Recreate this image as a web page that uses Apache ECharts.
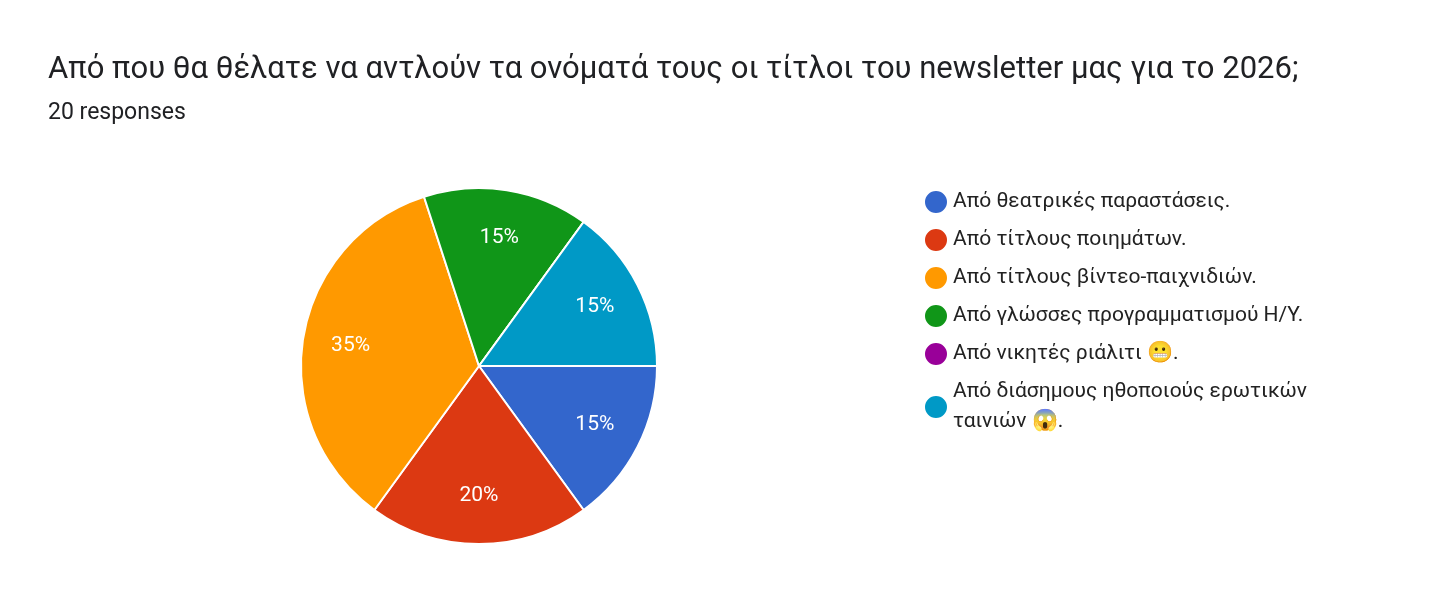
<!DOCTYPE html>
<html lang="en">
<head>
    <meta charset="UTF-8">
    <title>Pie</title>
    <script src="https://cdn.jsdelivr.net/npm/echarts@6/dist/echarts.min.js"></script>
    <style>
        body { margin: 0; background: #fff; }
        #chart { width: 1456px; height: 613px; }
    </style>
</head>
<body>
    <div id="chart"></div>
    <script>
        const categories = [
            'Από θεατρικές παραστάσεις.',
            'Από τίτλους ποιημάτων.',
            'Από τίτλους βίντεο-παιχνιδιών.',
            'Από γλώσσες προγραμματισμού Η/Υ.',
            'Από νικητές ριάλιτι 😬.',
            'Από διάσημους ηθοποιούς ερωτικών ταινιών 😱.'
        ];
        const values = [3, 4, 7, 3, 0, 3];
        const colors = ['#3366cc', '#dc3912', '#ff9900', '#109618', '#990099', '#0099c6'];

        const chart = echarts.init(document.getElementById('chart'));
        const pieData = categories.map((c, i) => ({ name: c, value: values[i] }));
        chart.setOption({
            animation: false,
            textStyle: { fontFamily: 'Roboto, sans-serif' },
            title: [
                { text: 'Από που θα θέλατε να αντλούν τα ονόματά τους οι τίτλοι του newsletter μας για το 2026;',
                  left: 43, top: 50, textStyle: { fontSize: 31, fontWeight: 'normal', color: '#202124' } },
                { text: '20 responses', left: 43, top: 97,
                  textStyle: { fontSize: 23, fontWeight: 'normal', color: '#202124' } }
            ],
            color: colors,
            legend: {
                orient: 'vertical', left: 918, top: 182,
                icon: 'circle', itemWidth: 24, itemHeight: 24, itemGap: 8,
                textStyle: { fontSize: 21, color: '#222', lineHeight: 30 },
                formatter: n => n.replace('ερωτικών ', 'ερωτικών\n'),
                data: categories
            },
            series: [{
                type: 'pie',
                center: [479, 366], radius: 178,
                startAngle: 0, clockwise: true,
                itemStyle: { borderColor: '#fff', borderWidth: 2 },
                label: { show: false },
                labelLine: { show: false },
                data: pieData
            }, {
                type: 'pie', silent: true,
                center: [479, 366], radius: 254,
                startAngle: 0, clockwise: true,
                itemStyle: { color: 'transparent' },
                label: {
                    position: 'inner', color: '#fff', fontSize: 21,
                    formatter: p => p.value ? Math.round(p.percent) + '%' : ''
                },
                labelLine: { show: false },
                data: pieData
            }]
        });
    </script>
</body>
</html>
